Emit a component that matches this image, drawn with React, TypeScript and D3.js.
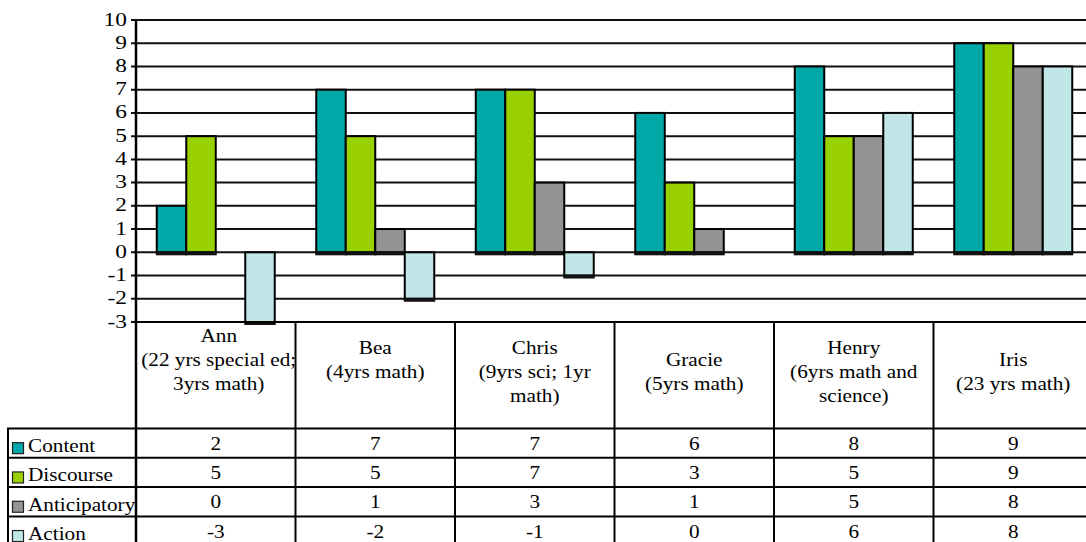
import React from "react";
import * as d3 from "d3";

const categories = ["Ann", "Bea", "Chris", "Gracie", "Henry", "Iris"];
const categoryLines: string[][] = [
  ["Ann", "(22 yrs special ed;", "3yrs math)", ""],
  ["Bea", "(4yrs math)", ""],
  ["Chris", "(9yrs sci; 1yr", "math)"],
  ["Gracie", "(5yrs math)"],
  ["Henry", "(6yrs math and", "science)"],
  ["Iris", "(23 yrs math)"],
];
const seriesNames = ["Content", "Discourse", "Anticipatory", "Action"];
const content = [2, 7, 7, 6, 8, 9];
const discourse = [5, 5, 7, 3, 5, 9];
const anticipatory = [0, 1, 3, 1, 5, 8];
const action = [-3, -2, -1, 0, 6, 8];
const seriesValues = [content, discourse, anticipatory, action];
const seriesColors = ["#00A8A8", "#99D100", "#939393", "#C0E6E8"];
const yTicks = [-3, -2, -1, 0, 1, 2, 3, 4, 5, 6, 7, 8, 9, 10];

const W = 1086;
const H = 542;
const FONT = "Times New Roman, Liberation Serif, DejaVu Serif, Noto Serif, serif";

function T(props: { x: number; y: number; sx: number; anchor?: string; children: any }) {
  return (
    <text
      transform={`translate(${props.x},${props.y}) scale(${props.sx},1)`}
      textAnchor={props.anchor || "start"}
      fontSize={18}
      fill="#000"
      fontFamily={FONT}
    >
      {props.children}
    </text>
  );
}

export default function App() {
  const plotLeft = 136;
  const plotRight = 1093;
  const x = d3.scaleBand<string>().domain(categories).range([plotLeft, plotRight]).paddingInner(0).paddingOuter(0);
  const y = d3.scaleLinear().domain([-3, 10]).range([322, 20]);
  const groupW = x.bandwidth();
  const barW = 29.5;
  const inner = d3
    .scaleBand<string>()
    .domain(seriesNames)
    .range([(groupW - barW * 4) / 2, (groupW + barW * 4) / 2]);

  const tableTop = y(-3);
  const headerBottom = 428.5;
  const rowH = 29.3;
  const legendLeft = 8;
  const SX = 1.18;

  return (
    <div style={{ position: "absolute", left: 0, top: 0 }}>
      <svg width={W} height={H} style={{ display: "block" }} fontFamily={FONT}>
        <rect x={0} y={0} width={W} height={H} fill="#fff" />
        {yTicks.map((t) => (
          <line key={"g" + t} x1={plotLeft - 5} x2={W} y1={y(t)} y2={y(t)} stroke="#111" strokeWidth={2} />
        ))}
        {yTicks.map((t) => (
          <T key={"yl" + t} x={127} y={y(t) + 5.5} sx={1.3} anchor="end">
            {t}
          </T>
        ))}
        {seriesNames.map((s, si) =>
          categories.map((c, ci) => {
            const v = seriesValues[si][ci];
            if (v === 0) return null;
            const bx = (x(c) as number) + (inner(s) as number);
            const top = Math.min(y(v), y(0));
            const bottom = Math.max(y(v), y(0));
            return (
              <g key={s + c}>
                <rect x={bx} y={top} width={inner.bandwidth()} height={bottom - top} fill={seriesColors[si]} stroke="#000" strokeWidth={2} />
                <rect x={bx - 1} y={bottom - 1} width={inner.bandwidth() + 2} height={4} fill="#111" />
              </g>
            );
          })
        )}
        <line x1={plotLeft} x2={plotLeft} y1={y(10) - 1} y2={H} stroke="#000" strokeWidth={2.5} />
        {categories.map((c, ci) =>
          ci === 0 ? null : (
            <line key={"v" + c} x1={x(c) as number} x2={x(c) as number} y1={tableTop} y2={H} stroke="#000" strokeWidth={2} />
          )
        )}
        <line x1={plotLeft} x2={W} y1={tableTop} y2={tableTop} stroke="#000" strokeWidth={2} />
        <defs>
          {categories.map((c) => (
            <clipPath id={"clip-" + c} key={"cp" + c}>
              <rect x={(x(c) as number) + 1} y={tableTop} width={groupW - 2} height={headerBottom - tableTop} />
            </clipPath>
          ))}
        </defs>
        {categories.map((c, ci) => {
          const lines = categoryLines[ci];
          const lh = 24;
          const center = (tableTop + headerBottom) / 2 - 4;
          const start = center - ((lines.length - 1) * lh) / 2;
          return (
            <g key={"h" + c} clipPath={`url(#clip-${c})`}>
              {lines.map((l, li) => (
                <T key={li} x={(x(c) as number) + groupW / 2 + (ci === 0 ? 3 : 0)} y={start + li * lh + 7} sx={SX} anchor="middle">
                  {l}
                </T>
              ))}
            </g>
          );
        })}
        {seriesNames.map((s, si) => {
          const rt = headerBottom + si * rowH;
          const cy = rt + rowH / 2;
          return (
            <g key={"r" + s}>
              <line x1={legendLeft - 1} x2={W} y1={rt} y2={rt} stroke="#000" strokeWidth={2} />
              <rect x={12.5} y={cy - 0.5} width={11} height={11} fill={seriesColors[si]} stroke="#222" strokeWidth={1.2} />
              <T x={28} y={cy + 9} sx={SX}>
                {s}
              </T>
              {categories.map((c, ci) => (
                <T key={c} x={(x(c) as number) + groupW / 2} y={cy + 6.5} sx={SX} anchor="middle">
                  {seriesValues[si][ci]}
                </T>
              ))}
            </g>
          );
        })}
        <line x1={legendLeft - 1} x2={W} y1={headerBottom + 4 * rowH} y2={headerBottom + 4 * rowH} stroke="#000" strokeWidth={2} />
        <line x1={legendLeft} x2={legendLeft} y1={headerBottom} y2={H} stroke="#000" strokeWidth={2} />
      </svg>
    </div>
  );
}
